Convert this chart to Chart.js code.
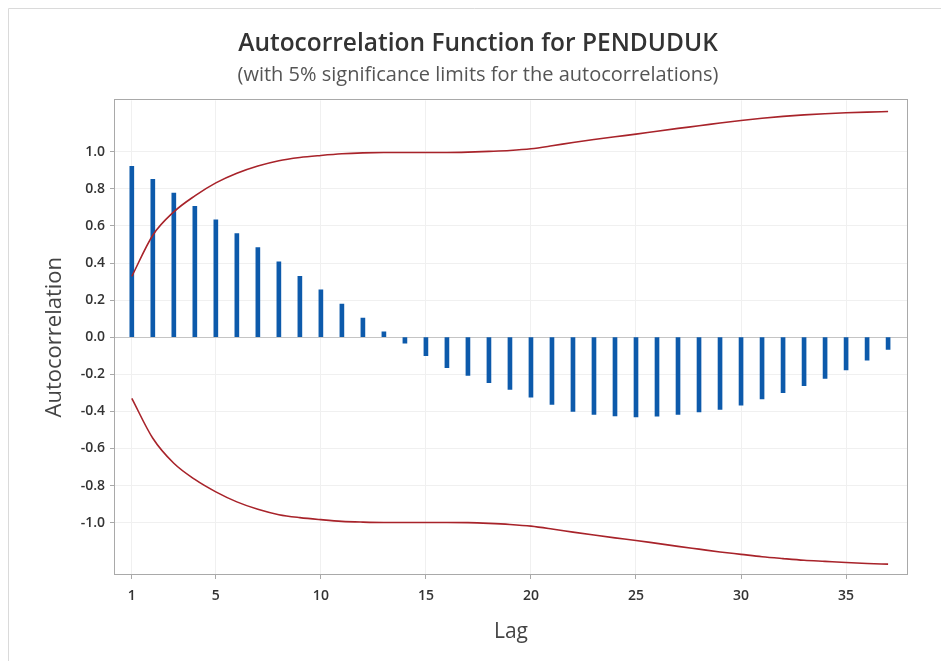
<!DOCTYPE html>
<html>
<head>
<meta charset="utf-8">
<title>Autocorrelation Function for PENDUDUK</title>
<script src="https://cdn.jsdelivr.net/npm/chart.js@4.4.1/dist/chart.umd.min.js"></script>
<style>
  html, body { margin: 0; padding: 0; background: #fff; }
  canvas { display: block; }
</style>
</head>
<body>
<canvas id="acfChart" width="941" height="661"></canvas>
<script>
// data
const lags = [1, 2, 3, 4, 5, 6, 7, 8, 9, 10, 11, 12, 13, 14, 15, 16, 17, 18, 19,
              20, 21, 22, 23, 24, 25, 26, 27, 28, 29, 30, 31, 32, 33, 34, 35, 36, 37];
const acf = [0.921, 0.852, 0.777, 0.706, 0.633, 0.559, 0.483, 0.406, 0.328, 0.256,
             0.179, 0.103, 0.029, -0.032, -0.100, -0.164, -0.206, -0.245, -0.281, -0.324,
             -0.362, -0.400, -0.416, -0.425, -0.430, -0.426, -0.417, -0.403, -0.389, -0.366,
             -0.333, -0.299, -0.261, -0.222, -0.177, -0.124, -0.066];
const upperLimit = [0.328, 0.550, 0.676, 0.762, 0.832, 0.884, 0.923, 0.952, 0.969, 0.980,
                    0.989, 0.994, 0.996, 0.996, 0.996, 0.996, 0.998, 1.002, 1.007, 1.016,
                    1.032, 1.050, 1.066, 1.081, 1.095, 1.111, 1.126, 1.140, 1.155, 1.169,
                    1.181, 1.191, 1.199, 1.205, 1.210, 1.214, 1.217];
const lowerLimit = [-0.330, -0.545, -0.680, -0.767, -0.834, -0.888, -0.928, -0.957, -0.973, -0.984,
                    -0.993, -0.997, -0.999, -0.999, -0.999, -0.999, -1.000, -1.004, -1.010, -1.019,
                    -1.034, -1.051, -1.067, -1.082, -1.096, -1.112, -1.128, -1.143, -1.158, -1.171,
                    -1.184, -1.194, -1.203, -1.209, -1.215, -1.220, -1.224];
const xTicks = [1, 5, 10, 15, 20, 25, 30, 35];
const yTicks = [-1.0, -0.8, -0.6, -0.4, -0.2, 0.0, 0.2, 0.4, 0.6, 0.8, 1.0];

const FONT = '"Open Sans", "Noto Sans", sans-serif';
const toPoints = vals => lags.map((lag, i) => ({ x: lag, y: vals[i] }));

// light outer frame + box round the plot area
const framePlugin = {
    id: 'frame',
    beforeDraw(chart) {
        const { ctx } = chart;
        ctx.save();
        ctx.strokeStyle = '#dadada';
        ctx.lineWidth = 1;
        ctx.beginPath();
        ctx.moveTo(8.5, 661);
        ctx.lineTo(8.5, 8.5);
        ctx.lineTo(941, 8.5);
        ctx.stroke();
        ctx.restore();
    },
    afterDraw(chart) {
        const { ctx, chartArea: a } = chart;
        ctx.save();
        ctx.strokeStyle = '#a9a9a9';
        ctx.lineWidth = 1;
        ctx.strokeRect(Math.round(a.left) - 0.5, Math.round(a.top) - 0.5,
                       Math.round(a.right - a.left) + 1, Math.round(a.bottom - a.top) + 1);
        ctx.restore();
    }
};

const limitLine = (vals) => ({
    type: 'line',
    data: toPoints(vals),
    borderColor: '#a8232a',
    borderWidth: 1.6,
    pointRadius: 0,
    tension: 0.4,
    cubicInterpolationMode: 'monotone',
    fill: false,
    order: 0
});

new Chart(document.getElementById('acfChart'), {
    type: 'bar',
    data: {
        datasets: [
            {
                type: 'bar',
                data: toPoints(acf),
                backgroundColor: '#0d5aab',
                barThickness: 4,
                order: 1
            },
            limitLine(upperLimit),
            limitLine(lowerLimit)
        ]
    },
    plugins: [framePlugin],
    options: {
        responsive: false,
        animation: false,
        layout: { padding: { left: 15, top: 10, right: 0, bottom: 0 } },
        plugins: {
            legend: { display: false },
            tooltip: { enabled: false },
            title: {
                display: true,
                text: 'Autocorrelation Function for PENDUDUK',
                color: '#333',
                font: { family: FONT, size: 24.5, weight: '600' },
                padding: { top: 19, bottom: 0 }
            },
            subtitle: {
                display: true,
                text: '(with 5% significance limits for the autocorrelations)',
                color: '#555',
                font: { family: FONT, size: 20 },
                padding: { top: 5, bottom: 13 }
            }
        },
        scales: {
            x: {
                type: 'linear',
                min: 0.2,
                max: 37.9,
                offset: false,
                afterBuildTicks: s => { s.ticks = xTicks.map(v => ({ value: v })); },
                afterFit: s => { s.height = 87; },
                border: { display: false },
                grid: { color: '#f0f0f0', tickColor: '#a9a9a9', tickLength: 5, offset: false },
                ticks: {
                    color: '#333',
                    font: { family: FONT, size: 14, weight: '600' },
                    padding: 9,
                    maxRotation: 0,
                    callback: v => String(v)
                },
                title: {
                    display: true,
                    text: 'Lag',
                    color: '#444',
                    font: { family: FONT, size: 21 },
                    padding: { top: 0, bottom: 16 }
                }
            },
            y: {
                min: -1.277,
                max: 1.277,
                afterBuildTicks: s => { s.ticks = yTicks.map(v => ({ value: v })); },
                afterFit: s => { s.width = 100; },
                border: { display: false },
                grid: {
                    color: c => (c.tick && c.tick.value === 0 ? '#c4c4c4' : '#f0f0f0'),
                    tickColor: '#a9a9a9',
                    tickLength: 5
                },
                ticks: {
                    color: '#333',
                    font: { family: FONT, size: 14, weight: '600' },
                    padding: 5,
                    callback: v => v.toFixed(1)
                },
                title: {
                    display: true,
                    text: 'Autocorrelation',
                    color: '#444',
                    font: { family: FONT, size: 22 },
                    padding: { top: 27, bottom: 0 }
                }
            },
            // empty right margin so the title centres like the original
            yRight: {
                position: 'right',
                display: true,
                afterFit: s => { s.width = 34; },
                border: { display: false },
                grid: { display: false },
                ticks: { display: false }
            }
        }
    }
});
</script>
</body>
</html>
